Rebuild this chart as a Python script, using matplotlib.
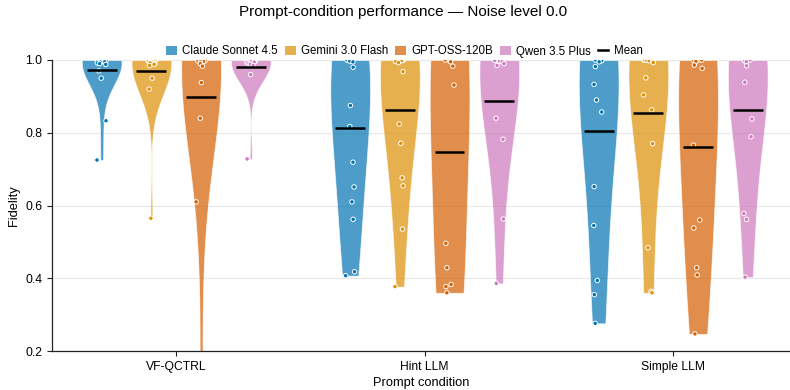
import numpy as np
import pandas as pd
import matplotlib
matplotlib.use("Agg")
import matplotlib.pyplot as plt
import seaborn as sns
from matplotlib.patches import Patch
from matplotlib.lines import Line2D

# ---------------- data ----------------
conditions = ["VF-QCTRL", "Hint LLM", "Simple LLM"]
models = ["Claude Sonnet 4.5", "Gemini 3.0 Flash", "GPT-OSS-120B", "Qwen 3.5 Plus"]

vf_claude = [1.0, 1.0, 1.0, 1.0, 1.0, 1.0, 0.999, 0.998, 0.998, 0.997, 0.996, 0.995,
             0.994, 0.992, 0.99, 0.988, 0.97, 0.95, 0.833, 0.725]
vf_gemini = [1.0, 1.0, 1.0, 1.0, 1.0, 1.0, 1.0, 0.999, 0.998, 0.997, 0.996, 0.995, 0.994,
             0.993, 0.992, 0.99, 0.988, 0.985, 0.95, 0.92, 0.565]
vf_gpt = [1.0, 1.0, 1.0, 1.0, 1.0, 0.999, 0.998, 0.997, 0.996, 0.995,
          0.99, 0.983, 0.938, 0.84, 0.61, 0.02]
vf_qwen = [1.0, 1.0, 1.0, 1.0, 1.0, 1.0, 1.0, 1.0, 0.999, 0.998, 0.997, 0.996, 0.995,
           0.994, 0.993, 0.99, 0.988, 0.985, 0.96, 0.728]

hint_claude = [1.0, 1.0, 1.0, 1.0, 0.999, 0.997, 0.995,
               0.98, 0.875, 0.817, 0.719, 0.651, 0.61, 0.562, 0.418, 0.407]
hint_gemini = [1.0, 1.0, 1.0, 1.0, 1.0, 0.999, 0.998, 0.996, 0.993,
               0.968, 0.824, 0.771, 0.676, 0.654, 0.535, 0.377]
hint_gpt = [1.0, 1.0, 1.0, 0.998, 0.995,
            0.983, 0.931, 0.496, 0.429, 0.383, 0.377, 0.36]
hint_qwen = [1.0, 1.0, 1.0, 1.0, 0.999, 0.997, 0.995,
             0.99, 0.985, 0.84, 0.782, 0.563, 0.386]

simple_claude = [1.0, 1.0, 1.0, 1.0, 0.999, 0.998, 0.995,
                 0.982, 0.933, 0.89, 0.857, 0.652, 0.545, 0.394, 0.355, 0.276]
simple_gemini = [1.0, 1.0, 1.0, 1.0, 1.0, 0.999, 0.998, 0.996, 0.993,
                 0.951, 0.904, 0.863, 0.77, 0.484, 0.364, 0.36]
simple_gpt = [1.0, 1.0, 1.0, 0.998, 0.996,
              0.986, 0.977, 0.766, 0.56, 0.538, 0.429, 0.409, 0.247]
simple_qwen = [1.0, 1.0, 1.0, 1.0, 0.999, 0.997, 0.995,
               0.984, 0.939, 0.838, 0.789, 0.578, 0.562, 0.403]

series = {
    ("VF-QCTRL", models[0]): vf_claude,
    ("VF-QCTRL", models[1]): vf_gemini,
    ("VF-QCTRL", models[2]): vf_gpt,
    ("VF-QCTRL", models[3]): vf_qwen,
    ("Hint LLM", models[0]): hint_claude,
    ("Hint LLM", models[1]): hint_gemini,
    ("Hint LLM", models[2]): hint_gpt,
    ("Hint LLM", models[3]): hint_qwen,
    ("Simple LLM", models[0]): simple_claude,
    ("Simple LLM", models[1]): simple_gemini,
    ("Simple LLM", models[2]): simple_gpt,
    ("Simple LLM", models[3]): simple_qwen,
}
rows = []
for (c, m), vals in series.items():
    for v in vals:
        rows.append({"condition": c, "model": m, "fidelity": v})
df = pd.DataFrame(rows)

# ---------------- style ----------------
base_colors = ["#0173B2", "#DE8F05", "#D55E00", "#CC78BC"]
ALPHA = 0.7

plt.rcParams["font.family"] = ["Liberation Sans", "DejaVu Sans"]

fig = plt.figure(figsize=(7.9, 3.9), dpi=100)
ax = fig.add_axes([52 / 790, 39 / 390, 1 - 52 / 790, (351 - 60) / 390])

sns.violinplot(data=df, x="condition", y="fidelity", hue="model",
               order=conditions, hue_order=models, palette=base_colors,
               saturation=1, cut=0, inner=None, density_norm="width",
               bw_adjust=1.6, gap=0.2, linewidth=0.6, linecolor="white",
               alpha=ALPHA, legend=False, ax=ax)

np.random.seed(7)
sns.stripplot(data=df, x="condition", y="fidelity", hue="model",
              order=conditions, hue_order=models, palette=base_colors,
              dodge=True, jitter=0.08, size=3.2, edgecolor="white",
              linewidth=0.7, legend=False, zorder=3, ax=ax)

nh = len(models)
for i, c in enumerate(conditions):
    for j, m in enumerate(models):
        x = i - 0.4 + 0.8 / nh * (j + 0.5)
        mu = np.mean(series[(c, m)])
        ax.hlines(mu, x - 0.06, x + 0.06, color="black", lw=1.8, zorder=4)

ax.set_ylim(0.2, 1.0)
ax.set_xlim(-0.5, 2.47)
ax.set_yticks([0.2, 0.4, 0.6, 0.8, 1.0])
ax.set_yticklabels(["0.2", "0.4", "0.6", "0.8", "1.0"])
ax.yaxis.grid(True, color="#e8e8e8", lw=0.8)
ax.xaxis.grid(False)
ax.set_axisbelow(True)
for s in ["top", "right"]:
    ax.spines[s].set_visible(False)
for s in ["left", "bottom"]:
    ax.spines[s].set_linewidth(0.9)
    ax.spines[s].set_color("#222222")
ax.tick_params(axis="both", labelsize=8.7, length=3.5, width=0.8, color="#222222")
ax.set_xlabel("Prompt condition", fontsize=9.3, labelpad=3)
ax.set_ylabel("Fidelity", fontsize=9.3, labelpad=4)

fig.text(0.51, 1 - 12 / 390, "Prompt-condition performance — Noise level 0.0",
         ha="center", va="center", fontsize=11)

handles = [Patch(facecolor=col, alpha=ALPHA, edgecolor="none") for col in base_colors]
handles.append(Line2D([0], [0], color="black", lw=1.8))
labels = models + ["Mean"]
fig.legend(handles, labels, loc="center", bbox_to_anchor=(0.512, 1 - 51.5 / 390),
           ncol=5, frameon=False, fontsize=8.3, handlelength=0.9,
           handleheight=0.7, handletextpad=0.45, columnspacing=0.65)

fig.savefig("out.png", dpi=100)
